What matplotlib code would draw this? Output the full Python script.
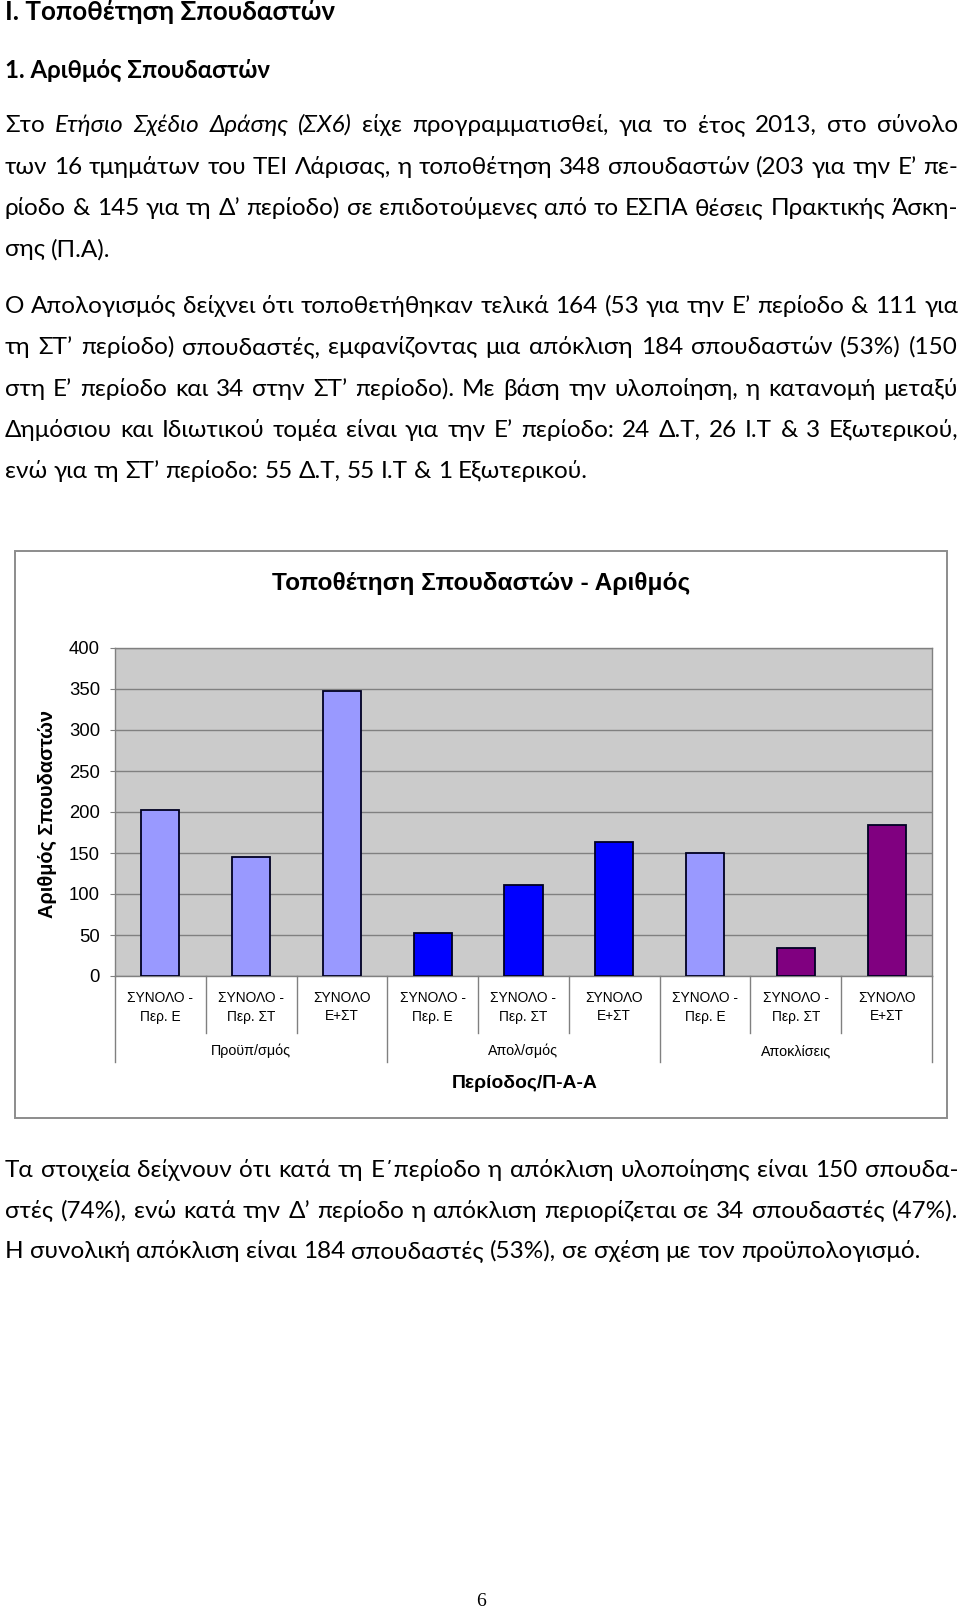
import matplotlib
matplotlib.use('Agg')
import matplotlib.pyplot as plt
import matplotlib.font_manager as fm
from matplotlib.patches import Rectangle
from matplotlib.lines import Line2D
from matplotlib.ft2font import FT2Font

# ---------------- data ----------------
categories = ['ΣΥΝΟΛΟ -\nΠερ. Ε', 'ΣΥΝΟΛΟ -\nΠερ. ΣΤ', 'ΣΥΝΟΛΟ\nΕ+ΣΤ',
              'ΣΥΝΟΛΟ -\nΠερ. Ε', 'ΣΥΝΟΛΟ -\nΠερ. ΣΤ', 'ΣΥΝΟΛΟ\nΕ+ΣΤ',
              'ΣΥΝΟΛΟ -\nΠερ. Ε', 'ΣΥΝΟΛΟ -\nΠερ. ΣΤ', 'ΣΥΝΟΛΟ\nΕ+ΣΤ']
groups = ['Προϋπ/σμός', 'Απολ/σμός', 'Αποκλίσεις']
values = [203, 145, 348, 53, 111, 164, 150, 34, 184]
yticks = [0, 50, 100, 150, 200, 250, 300, 350, 400]
bar_colors = ['#9999FF', '#9999FF', '#9999FF',
              '#0000FF', '#0000FF', '#0000FF',
              '#9999FF', '#800080', '#800080']

chart_title = 'Τοποθέτηση Σπουδαστών - Αριθμός'
y_label = 'Αριθμός Σπουδαστών'
x_label = 'Περίοδος/Π-Α-Α'

heading1 = 'I. Τοποθέτηση Σπουδαστών'
heading2 = '1. Αριθμός Σπουδαστών'
para1 = ['Στο *Ετήσιο *Σχέδιο *Δράσης *(ΣΧ6) είχε προγραμματισθεί, για το έτος 2013, στο σύνολο',
         'των 16 τμημάτων του ΤΕΙ Λάρισας, η τοποθέτηση 348 σπουδαστών (203 για την Ε’ πε-',
         'ρίοδο & 145 για τη Δ’ περίοδο) σε επιδοτούμενες από το ΕΣΠΑ θέσεις Πρακτικής Άσκη-',
         'σης (Π.Α).']
para2 = ['Ο Απολογισμός δείχνει ότι τοποθετήθηκαν τελικά 164 (53 για την Ε’ περίοδο & 111 για',
         'τη ΣΤ’ περίοδο) σπουδαστές, εμφανίζοντας μια απόκλιση 184 σπουδαστών (53%) (150',
         'στη Ε’ περίοδο και 34 στην ΣΤ’ περίοδο). Με βάση την υλοποίηση, η κατανομή μεταξύ',
         'Δημόσιου και Ιδιωτικού τομέα είναι για την Ε’ περίοδο: 24 Δ.Τ, 26 Ι.Τ & 3 Εξωτερικού,',
         'ενώ για τη ΣΤ’ περίοδο: 55 Δ.Τ, 55 Ι.Τ & 1 Εξωτερικού.']
para3 = ['Τα στοιχεία δείχνουν ότι κατά τη Ε΄περίοδο η απόκλιση υλοποίησης είναι 150 σπουδα-',
         'στές (74%), ενώ κατά την Δ’ περίοδο η απόκλιση περιορίζεται σε 34 σπουδαστές (47%).',
         'Η συνολική απόκλιση είναι 184 σπουδαστές (53%), σε σχέση με τον προϋπολογισμό.']
page_number = '6'

# ---------------- fonts ----------------
def has_greek(name):
    try:
        path = fm.findfont(fm.FontProperties(family=name), fallback_to_default=False)
        f = FT2Font(path)
        return all(f.get_char_index(ord(c)) != 0 for c in 'λΔώ’΄')
    except Exception:
        return False

BODY = 'Lato' if has_greek('Lato') else ('Roboto' if has_greek('Roboto') else 'Noto Sans')
CHART = 'Liberation Sans'
SERIF = 'Liberation Serif'

W, H = 960, 1614
fig = plt.figure(figsize=(W / 100, H / 100), dpi=100, facecolor='white')
renderer = fig.canvas.get_renderer()


def fx(x):
    return x / W


def fy(y):
    return 1 - y / H


def twidth(s, size, family, weight='normal', style='normal'):
    t = fig.text(0, 0, s, fontsize=size, family=family, weight=weight, style=style)
    w = t.get_window_extent(renderer=renderer).width
    t.remove()
    return w


def fit(s, target, family, weight='normal'):
    return 10.0 * target / twidth(s, 10, family, weight)


# ---------------- body text ----------------
X0, X1 = 5, 958


def parse(line):
    words = [w for w in line.split(' ') if w]
    out = []
    for w in words:
        if w.startswith('*'):
            out.append((w[1:], 'italic'))
        else:
            out.append((w, 'normal'))
    return out


SP10 = twidth('x x', 10, BODY) - twidth('xx', 10, BODY)


def max_size(line, min_gap=0.6):
    ws = parse(line)
    a = sum(twidth(w, 10, BODY, style=st) for w, st in ws)
    return 10 * (X1 - X0) / (a + min_gap * SP10 * (len(ws) - 1))


justified = para1[:3] + para2[:4] + para3[:2]
# size chosen so the last (unjustified) line lengths match the reference
target_last = fit(para3[2], 920 - X0, BODY)
BODY_SIZE = min(min(max_size(l) for l in justified) * 0.995, target_last)
SPACE = SP10 * BODY_SIZE / 10


def draw_line(line, yb, justify):
    ws = parse(line)
    widths = [twidth(w, BODY_SIZE, BODY, style=st) for w, st in ws]
    if justify and len(ws) > 1:
        gap = (X1 - X0 - sum(widths)) / (len(ws) - 1)
    else:
        gap = SPACE
    x = X0
    for (w, st), wd in zip(ws, widths):
        fig.text(fx(x), fy(yb), w, fontsize=BODY_SIZE, family=BODY, style=st,
                 ha='left', va='baseline', color='black')
        x += wd + gap


fig.text(fx(X0), fy(20), heading1, family=BODY, weight='bold',
         fontsize=fit(heading1, 330, BODY, 'bold'), ha='left', va='baseline')
fig.text(fx(X0), fy(78), heading2, family=BODY, weight='bold',
         fontsize=fit(heading2, 265, BODY, 'bold'), ha='left', va='baseline')

for i, (l, yb) in enumerate(zip(para1, [132, 173.5, 215, 256.5])):
    draw_line(l, yb, i < 3)
for i, (l, yb) in enumerate(zip(para2, [313, 354, 395.5, 437, 478])):
    draw_line(l, yb, i < 4)
for i, (l, yb) in enumerate(zip(para3, [1177, 1217.5, 1258])):
    draw_line(l, yb, i < 2)

fig.text(fx(481), fy(1602), page_number, family=SERIF, fontsize=14,
         ha='center', va='center')

# ---------------- chart ----------------
box = Rectangle((fx(14.5), fy(1117.5)), (947 - 14.5) / W, (1117.5 - 550.5) / H,
                transform=fig.transFigure, fill=False, edgecolor='#8C8C8C', lw=1.4)
fig.patches.append(box)

PL, PR, PT, PB = 115, 932, 648, 976
ax = fig.add_axes([fx(PL), fy(PB), (PR - PL) / W, (PB - PT) / H])
ax.set_facecolor('#CBCBCB')
x = list(range(len(values)))
ax.bar(x, values, width=0.42, color=bar_colors, edgecolor='#000022', linewidth=1.3, zorder=3)
ax.set_xlim(-0.5, len(values) - 0.5)
ax.set_ylim(0, 400)
ax.set_yticks(yticks)
ax.set_xticks([])
ax.yaxis.grid(True, color='#808080', linewidth=1.0, zorder=0)
ax.set_axisbelow(True)
for s in ['top', 'right', 'left', 'bottom']:
    ax.spines[s].set_color('#808080')
    ax.spines[s].set_linewidth(1.0)
tick_size = fit('400', 31, CHART)
ax.tick_params(axis='y', length=3.6, width=0.8, color='#808080', pad=7.2,
               labelsize=tick_size)
for lab in ax.get_yticklabels():
    lab.set_family(CHART)

fig.text(fx(481), fy(583.5), chart_title, family=CHART, weight='bold',
         fontsize=fit(chart_title, 416, CHART, 'bold'), ha='center', va='center')
fig.text(fx(47), fy(814), y_label, family=CHART, weight='bold', rotation=90,
         fontsize=fit(y_label, 208, CHART, 'bold'), ha='center', va='center')
fig.text(fx(525), fy(1083), x_label, family=CHART, weight='bold',
         fontsize=fit(x_label, 145, CHART, 'bold'), ha='center', va='center')


def ay(ypx):
    return (PB - ypx) / (PB - PT)


xt = ax.get_xaxis_transform()
cat_size = fit('ΣΥΝΟΛΟ -', 66, CHART)
for i, c in enumerate(categories):
    l1, l2 = c.split('\n')
    ax.text(i, ay(1001.5), l1, transform=xt, ha='center', va='baseline',
            family=CHART, fontsize=cat_size, clip_on=False)
    ax.text(i, ay(1020.5), l2, transform=xt, ha='center', va='baseline',
            family=CHART, fontsize=cat_size, clip_on=False)

grp_size = fit(groups[0], 80, CHART)
for g, name in enumerate(groups):
    ax.text(3 * g + 1, ay(1055.5), name, transform=xt, ha='center', va='baseline',
            family=CHART, fontsize=grp_size, clip_on=False)

for b in range(len(values) + 1):
    xb = b - 0.5
    bottom = 1062 if b % 3 == 0 else 1033
    ax.add_line(Line2D([xb, xb], [0, ay(bottom)], transform=xt, color='#808080',
                       lw=1.0, clip_on=False))

fig.savefig('out.png', dpi=100, facecolor='white')
